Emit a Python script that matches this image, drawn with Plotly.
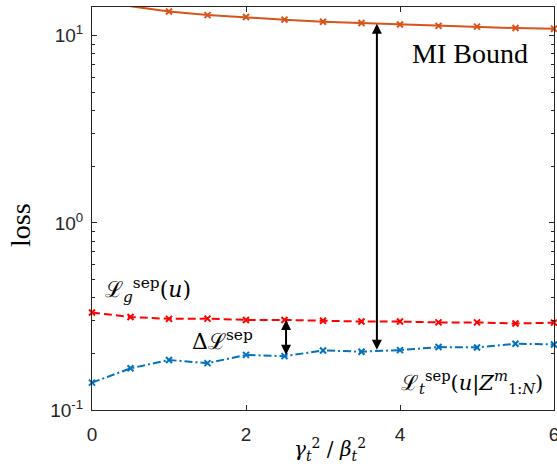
import numpy as np
import plotly.graph_objects as go

# ---- data ----
x_mi = [0.5, 1.0, 1.5, 2.0, 2.5, 3.0, 3.5, 4.0, 4.5, 5.0, 5.5, 6.0]
mi_bound = [14.4, 13.5, 12.9, 12.6, 12.2, 11.9, 11.7, 11.5, 11.3, 11.2, 11.0, 10.9]
x_vals = [0.0, 0.5, 1.0, 1.5, 2.0, 2.5, 3.0, 3.5, 4.0, 4.5, 5.0, 5.5, 6.0]
loss_g = [0.332, 0.314, 0.307, 0.308, 0.303, 0.303, 0.300, 0.297, 0.297, 0.294, 0.294, 0.290, 0.293]
loss_t = [0.140, 0.167, 0.185, 0.178, 0.197, 0.194, 0.208, 0.205, 0.209, 0.217, 0.216, 0.226, 0.224]
x_ticks = [0, 2, 4, 6]
y_ticks = [0.1, 1, 10]
y_tick_text = ["10<sup>-1</sup>", "10<sup>0</sup>", "10<sup>1</sup>"]
y_minor = [v * m for v in [0.1, 1, 10] for m in range(2, 10)]

# arrows: (x, top value, bottom value)
mi_arrow = (3.7, 11.6, 0.206)
gap_arrow = (2.52, loss_g[5], loss_t[5])

ORANGE = "#D95319"
RED = "#FF0000"
BLUE = "#0072BD"

fig = go.Figure()
fig.add_trace(go.Scatter(
    x=x_mi, y=mi_bound, mode="lines+markers", cliponaxis=False,
    line=dict(color=ORANGE, width=2),
    marker=dict(symbol="x-thin", size=6, line=dict(color=ORANGE, width=2)),
    showlegend=False))
fig.add_trace(go.Scatter(
    x=x_vals, y=loss_g, mode="lines+markers", cliponaxis=False,
    line=dict(color=RED, width=2, dash="8px,4px"),
    marker=dict(symbol="x-thin", size=6, line=dict(color=RED, width=2)),
    showlegend=False))
fig.add_trace(go.Scatter(
    x=x_vals, y=loss_t, mode="lines+markers", cliponaxis=False,
    line=dict(color=BLUE, width=2, dash="8px,3px,2px,3px"),
    marker=dict(symbol="x-thin", size=6, line=dict(color=BLUE, width=2)),
    showlegend=False))

serif = "Liberation Serif, DejaVu Serif, serif"
math = "DejaVu Serif, Liberation Serif, serif"

annots = []
for (ax_x, top, bot) in [mi_arrow, gap_arrow]:
    annots.append(dict(
        x=ax_x, y=np.log10(top), ax=ax_x, ay=np.log10(bot),
        xref="x", yref="y", axref="x", ayref="y",
        text="", showarrow=True, arrowhead=2, arrowside="end+start",
        arrowsize=1, arrowwidth=2, arrowcolor="black", standoff=0, startstandoff=0))

annots += [
    dict(x=4.91, y=0.908, xref="x", yref="y", text="MI Bound",
         showarrow=False, font=dict(family=serif, size=28, color="black")),
    dict(x=0.73, y=-0.359, xref="x", yref="y",
         text="ℒ<sub><i>g</i></sub><sup>sep</sup>(<i>u</i>)",
         showarrow=False, font=dict(family=math, size=22, color="black")),
    dict(x=1.70, y=-0.627, xref="x", yref="y",
         text="Δℒ<sup>sep</sup>",
         showarrow=False, font=dict(family=math, size=22, color="black")),
    dict(x=4.93, y=-0.851, xref="x", yref="y",
         text="ℒ<sub><i>t</i></sub><sup>sep</sup>(<i>u</i>|<i>Z</i><sup><i>m</i></sup><sub>1:<i>N</i></sub>)",
         showarrow=False, font=dict(family=math, size=21, color="black")),
    # axis titles
    dict(x=-0.156, y=0.459, xref="paper", yref="paper", text="loss", textangle=-90,
         xanchor="center", yanchor="middle",
         showarrow=False, font=dict(family=serif, size=28, color="black")),
    dict(x=0.515, y=-0.099, xref="paper", yref="paper",
         xanchor="center", yanchor="middle",
         text="<i>γ</i><sub><i>t</i></sub><sup>2</sup> / <i>β</i><sub><i>t</i></sub><sup>2</sup>",
         showarrow=False, font=dict(family=math, size=20, color="black")),
]

tickfont = dict(family="Liberation Sans, Arial, sans-serif", size=19, color="#262626")
fig.update_layout(
    width=557, height=466,
    margin=dict(l=92, r=3, t=7, b=56, autoexpand=False),
    paper_bgcolor="white", plot_bgcolor="white",
    annotations=annots,
    xaxis=dict(
        range=[0, 6], tickvals=x_ticks, ticktext=[str(v) for v in x_ticks],
        ticks="inside", ticklen=5, tickcolor="#262626",
        showline=True, linecolor="#262626", linewidth=1, mirror="ticks",
        showgrid=False, zeroline=False, tickfont=tickfont,
        automargin=False, ticklabeloverflow="allow", ticklabelstandoff=7,
    ),
    yaxis=dict(
        type="log", range=[-1, 1.154], tickvals=y_ticks, ticktext=y_tick_text,
        ticks="inside", ticklen=5, tickcolor="#262626",
        showline=True, linecolor="#262626", linewidth=1, mirror="ticks",
        showgrid=False, zeroline=False, tickfont=tickfont,
        automargin=False, ticklabeloverflow="allow", ticklabelstandoff=4,
        minor=dict(tickvals=y_minor, ticks="inside", ticklen=3,
                   tickcolor="#262626", showgrid=False),
    ),
)

fig.write_html(
    "out.html",
    config={"displayModeBar": False},
    post_script="document.body.style.margin='0';document.body.style.overflow='hidden';",
)
